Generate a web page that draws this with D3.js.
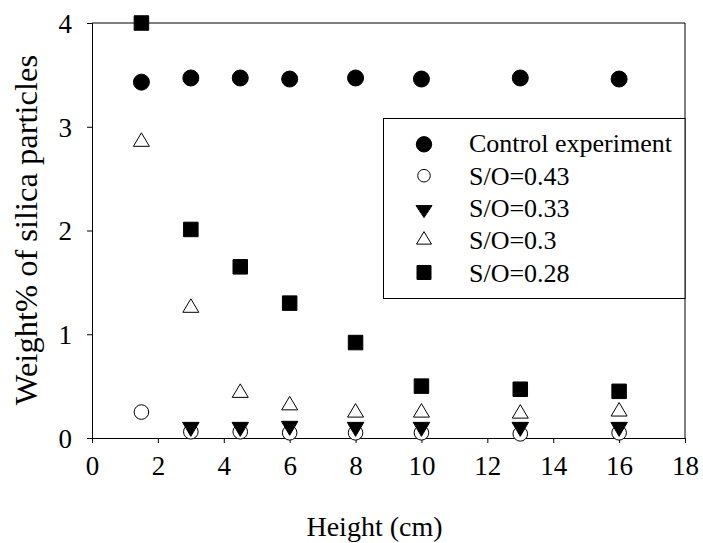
<!DOCTYPE html>
<html>
<head>
<meta charset="utf-8">
<script src="https://cdn.jsdelivr.net/npm/d3@7"></script>
<style>
  html, body { margin: 0; padding: 0; background: #fff; }
  svg { display: block; }
</style>
</head>
<body>
<svg id="chart" width="703" height="543"></svg>
<script>
// Sampling heights (cm)
const heights = [1.5, 3, 4.5, 6, 8, 10, 13, 16];

// Weight% of silica particles at each height
const controlExperiment = [3.43, 3.47, 3.47, 3.46, 3.47, 3.46, 3.47, 3.46];
const so043 = [0.25, 0.06, 0.06, 0.05, 0.05, 0.05, 0.04, 0.05];
const so033 = [null, 0.09, 0.09, 0.10, 0.09, 0.09, 0.09, 0.09];
const so030 = [2.87, 1.27, 0.45, 0.33, 0.26, 0.26, 0.25, 0.27];
const so028 = [4.0, 2.01, 1.65, 1.30, 0.92, 0.50, 0.47, 0.45];

const seriesNames = ["Control experiment", "S/O=0.43", "S/O=0.33", "S/O=0.3", "S/O=0.28"];

const xTicks = [0, 2, 4, 6, 8, 10, 12, 14, 16, 18];
const yTicks = [0, 1, 2, 3, 4];

const FONT = '"Liberation Serif"';

const svg = d3.select("#chart");
const plot = { left: 92, right: 685, top: 23, bottom: 438 };

const x = d3.scaleLinear().domain([0, 18]).range([plot.left, plot.right]);
const y = d3.scaleLinear().domain([0, 4]).range([plot.bottom, plot.top]);

// Frame (top and right edges)
svg.append("path")
  .attr("d", `M${plot.left},${plot.top}H${plot.right}V${plot.bottom}`)
  .attr("fill", "none").attr("stroke", "#000").attr("stroke-width", 1);

const xAxis = svg.append("g")
  .attr("transform", `translate(0,${plot.bottom})`)
  .call(d3.axisBottom(x).tickValues(xTicks).tickFormat(d3.format("d")).tickSize(5).tickPadding(13));
const yAxis = svg.append("g")
  .attr("transform", `translate(${plot.left},0)`)
  .call(d3.axisLeft(y).tickValues(yTicks).tickFormat(d3.format("d")).tickSize(5).tickPadding(15));

[xAxis, yAxis].forEach(g => {
  g.attr("font-family", null);
  g.select(".domain").attr("stroke", "#000");
  g.selectAll(".tick line").attr("stroke", "#000");
  g.selectAll(".tick text")
    .style("font-family", FONT)
    .style("font-size", "27px").attr("fill", "#000");
});
yAxis.selectAll(".tick text").attr("dy", "0.35em");

// Axis titles
svg.append("text")
  .attr("x", (plot.left + plot.right) / 2 - 14).attr("y", 536)
  .attr("text-anchor", "middle")
  .style("font-family", FONT).style("font-size", "28px")
  .text("Height (cm)");
svg.append("text")
  .attr("transform", `translate(37,230) rotate(-90)`)
  .attr("text-anchor", "middle")
  .style("font-family", FONT).style("font-size", "32.5px")
  .text("Weight% of silica particles");

// Marker shapes
const sym = (type, size) => d3.symbol().type(type).size(size)();
const triUp = (w, h) => `M0,${-h * 0.55}L${w / 2},${h * 0.45}L${-w / 2},${h * 0.45}Z`;
const triDown = (w, h) => `M0,${h * 0.55}L${w / 2},${-h * 0.45}L${-w / 2},${-h * 0.45}Z`;

const styles = [
  { data: controlExperiment, path: () => sym(d3.symbolCircle, Math.PI * 8 * 8), fill: "#000", legend: () => sym(d3.symbolCircle, Math.PI * 7.7 * 7.7) },
  { data: so043, path: () => sym(d3.symbolCircle, Math.PI * 7.3 * 7.3), fill: "#fff", legend: () => sym(d3.symbolCircle, Math.PI * 6.3 * 6.3) },
  { data: so033, path: () => triDown(16.5, 14), fill: "#000", legend: () => triDown(16, 12) },
  { data: so030, path: () => triUp(16, 13.5), fill: "#fff", legend: () => triUp(15, 12.5) },
  { data: so028, path: () => sym(d3.symbolSquare, 14.5 * 14.5), fill: "#000", legend: () => sym(d3.symbolSquare, 14 * 14) }
];

// Draw order: squares and triangles first, then open circles, then filled down-triangles on top
const drawOrder = [4, 3, 0, 1, 2];
drawOrder.forEach(i => {
  const s = styles[i];
  const pts = heights.map((h, j) => ({ h, v: s.data[j] })).filter(d => d.v != null);
  svg.append("g").selectAll("path").data(pts).join("path")
    .attr("d", s.path())
    .attr("transform", d => `translate(${x(d.h)},${y(d.v)})`)
    .attr("fill", s.fill).attr("stroke", "#000").attr("stroke-width", 1);
});

// Legend
const lg = svg.append("g");
lg.append("rect")
  .attr("x", 383.5).attr("y", 118.5).attr("width", 301.5).attr("height", 180)
  .attr("fill", "#fff").attr("stroke", "#000").attr("stroke-width", 1);
const textBase = [151.7, 185, 216.7, 249.3, 281.7];
const markerY = [144.3, 175.7, 211, 238.5, 272.5];
styles.forEach((s, i) => {
  lg.append("path")
    .attr("d", s.legend())
    .attr("transform", `translate(424,${markerY[i]})`)
    .attr("fill", s.fill).attr("stroke", "#000").attr("stroke-width", 1);
  lg.append("text")
    .attr("x", 469).attr("y", textBase[i])
    .style("font-family", FONT).style("font-size", "26px")
    .text(seriesNames[i]);
});
</script>
</body>
</html>
